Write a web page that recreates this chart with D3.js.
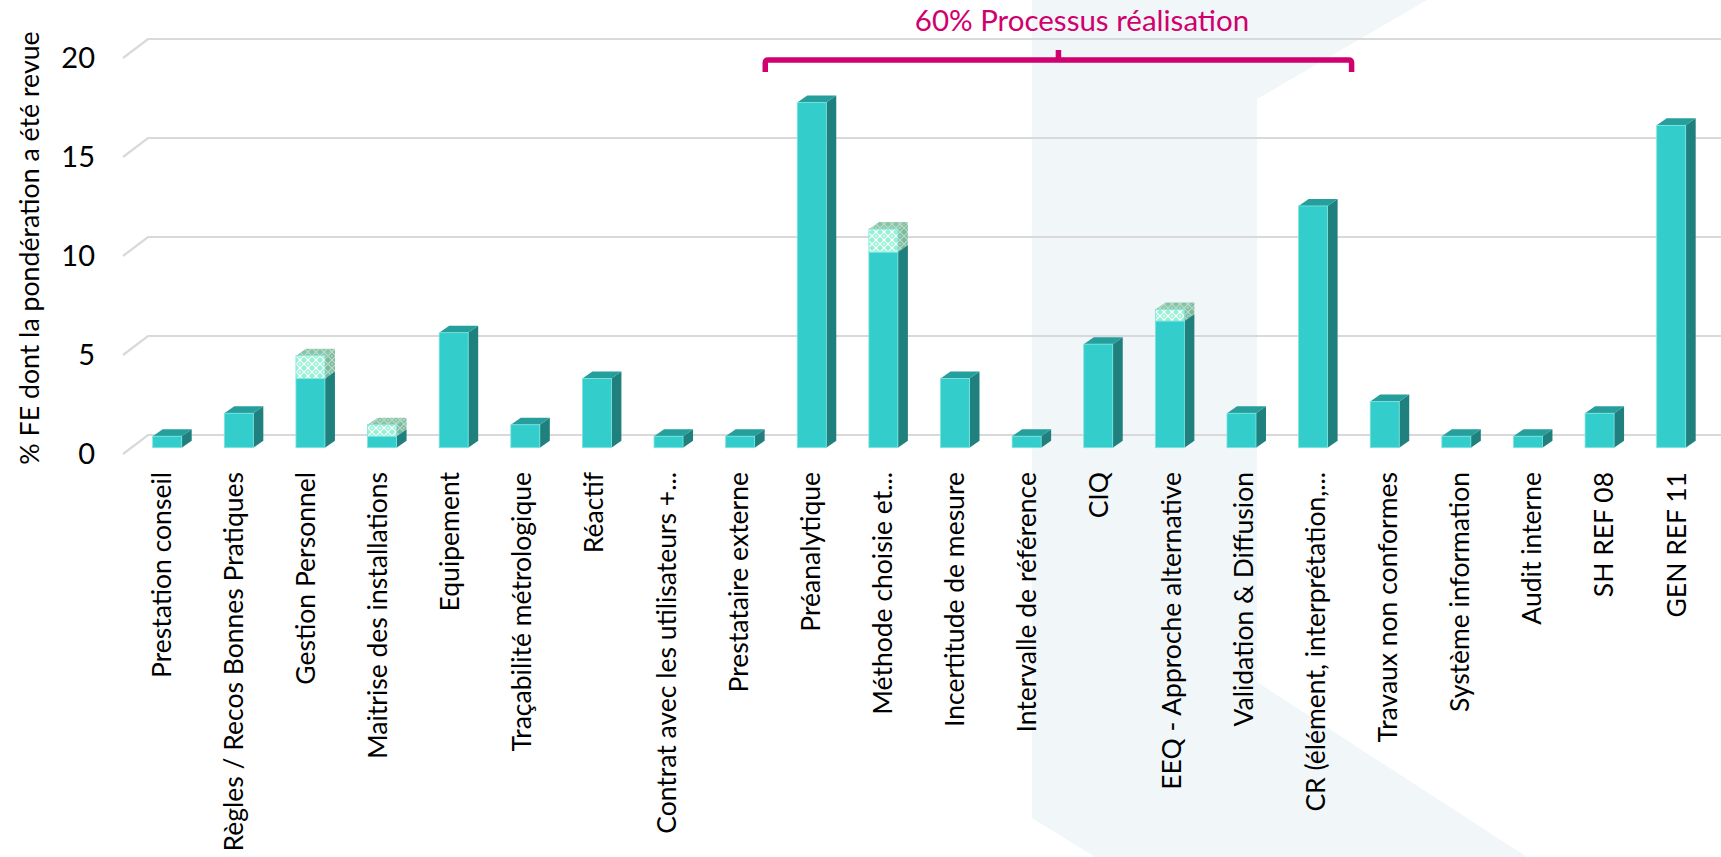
<!DOCTYPE html>
<html>
<head>
<meta charset="utf-8">
<script src="https://cdn.jsdelivr.net/npm/d3@7"></script>
<style>
  body { margin: 0; background: #fff; }
  svg { display: block; font-family: Lato, "Open Sans", sans-serif; }
</style>
</head>
<body>
<script>
// categories (x axis)
var categories = ["Prestation conseil", "Règles / Recos Bonnes Pratiques", "Gestion Personnel",
  "Maitrise des installations", "Equipement", "Traçabilité métrologique", "Réactif",
  "Contrat avec les utilisateurs +...", "Prestataire externe", "Préanalytique",
  "Méthode choisie et...", "Incertitude de mesure", "Intervalle de référence", "CIQ",
  "EEQ - Approche alternative", "Validation & Diffusion", "CR (élément, interprétation,...",
  "Travaux non conformes", "Système information", "Audit interne", "SH REF 08", "GEN REF 11"]

// % FE (plain part)
var baseValues = [0.58, 1.74, 3.49, 0.58, 5.81, 1.16, 3.49, 0.58, 0.58, 17.44,
  9.88, 3.49, 0.58, 5.23, 6.40, 1.74, 12.21, 2.33, 0.58, 0.58, 1.74, 16.28]

// % FE whose weighting was reviewed (hatched part)
var revisedValues = [0, 0, 1.16, 0.58, 0, 0, 0, 0, 0, 0,
  1.16, 0, 0, 0, 0.58, 0, 0, 0, 0, 0, 0, 0]

var yTicks = [0, 5, 10, 15, 20]

var yTitle = "% FE  dont la pondération a été revue"
var bracketText = "60% Processus réalisation"
var bracketFrom = "Préanalytique", bracketTo = "CR (élément, interprétation,..."

var width = 1721, height = 857

var svg = d3.select("body").append("svg")
    .attr("width", width)
    .attr("height", height)

var defs = svg.append("defs")
function hatch(id, bg, fg) {
    var p = defs.append("pattern").attr("id", id)
        .attr("width", 8).attr("height", 8)
        .attr("patternUnits", "userSpaceOnUse")
    p.append("rect").attr("width", 8).attr("height", 8).attr("fill", bg)
    p.append("path").attr("d", "M0,4 L4,0 L8,4 L4,8 Z")
        .attr("fill", "none").attr("stroke", fg).attr("stroke-width", 1.2)
    p.append("circle").attr("cx", 4).attr("cy", 4).attr("r", 0.9).attr("fill", fg)
}
hatch("hFront", "#93f2d4", "#ffffff")
hatch("hSide", "#7db99d", "#b5dcc8")
hatch("hTop", "#87c4a6", "#b8dcc9")

// background shape
svg.append("path")
    .attr("d", "M1032,0 L1427,0 L1257,99 L1257,682 L1527,857 L1095,857 L1032,818 Z")
    .attr("fill", "#f1f6f9")

var x = d3.scaleBand()
    .domain(categories)
    .range([131.4, 1707])
    .paddingInner(0.595)
    .paddingOuter(0.2975)

var xLabel = d3.scalePoint()
    .domain(categories)
    .range([161, 1676])

var y = d3.scaleLinear()
    .domain([0, 20])
    .range([447.7, 51.7])

// 3D grid: back wall lines + slanted floor edge
var backDy = -12.7, wallX = 148, frontX = 123, slant = 19

var grid = svg.append("g")
grid.selectAll("path")
    .data(yTicks)
    .enter()
    .append("path")
    .attr("d", function (d) {
        var yb = y(d) + backDy
        return "M" + frontX + "," + (yb + slant) + " L" + wallX + "," + yb + " L" + width + "," + yb
    })
    .attr("fill", "none")
    .attr("stroke", "#d9d9d9")
    .attr("stroke-width", 2.2)

svg.append("g").selectAll("text")
    .data(yTicks)
    .enter()
    .append("text")
    .attr("x", 95)
    .attr("y", function (d) { return y(d) + backDy + slant })
    .attr("dy", "0.36em")
    .attr("text-anchor", "end")
    .attr("font-size", 29)
    .attr("fill", "#000")
    .text(function (d) { return d })

svg.append("text")
    .attr("transform", "translate(29,248) rotate(-90)")
    .attr("dy", "0.36em")
    .attr("text-anchor", "middle")
    .attr("font-size", 26.7)
    .attr("fill", "#000")
    .text(yTitle)

// bars
var dx = 10, dz = 7, bw = x.bandwidth()
function block(g, x0, y0, y1, front, side, top) {
    g.append("path")
        .attr("d", "M" + (x0 + bw) + "," + y0 + " L" + (x0 + bw + dx) + "," + (y0 - dz) +
            " L" + (x0 + bw + dx) + "," + (y1 - dz) + " L" + (x0 + bw) + "," + y1 + " Z")
        .attr("fill", side)
    g.append("path")
        .attr("d", "M" + x0 + "," + y0 + " L" + (x0 + dx) + "," + (y0 - dz) +
            " L" + (x0 + bw + dx) + "," + (y0 - dz) + " L" + (x0 + bw) + "," + y0 + " Z")
        .attr("fill", top)
    g.append("rect")
        .attr("x", x0).attr("y", y0)
        .attr("width", bw).attr("height", y1 - y0)
        .attr("fill", front)
        .attr("stroke", "#7fe3e0").attr("stroke-width", 0.8)
}

var bars = svg.append("g")
categories.forEach(function (c, i) {
    var g = bars.append("g")
    var x0 = x(c)
    var b = baseValues[i], r = revisedValues[i]
    block(g, x0, y(b), y(0), "#33cdcc", "#1f807e", "#269e9c")
    if (r > 0) {
        block(g, x0, y(b + r), y(b), "url(#hFront)", "url(#hSide)", "url(#hTop)")
    }
})

// x labels
svg.append("g").selectAll("text")
    .data(categories)
    .enter()
    .append("text")
    .attr("transform", function (d) { return "translate(" + xLabel(d) + ",472) rotate(-90)" })
    .attr("dy", "0.36em")
    .attr("text-anchor", "end")
    .attr("font-size", 26.5)
    .attr("fill", "#000")
    .text(function (d) { return d })

// bracket for the realisation processes
var bx0 = x(bracketFrom) - 32, bx1 = x(bracketTo) + bw + 24
var by = 60, bmid = (bx0 + bx1) / 2
svg.append("path")
    .attr("d", "M" + bx0 + "," + (by + 12) + " L" + bx0 + "," + (by + 3) + " Q" + bx0 + "," + by + " " + (bx0 + 3) + "," + by +
        " L" + (bx1 - 3) + "," + by + " Q" + bx1 + "," + by + " " + bx1 + "," + (by + 3) + " L" + bx1 + "," + (by + 12) +
        " M" + bmid + "," + by + " L" + bmid + "," + (by - 10))
    .attr("fill", "none")
    .attr("stroke", "#d0006f")
    .attr("stroke-width", 5.5)

svg.append("text")
    .attr("x", 1082)
    .attr("y", 31)
    .attr("text-anchor", "middle")
    .attr("font-size", 29.5)
    .attr("fill", "#d0006f")
    .text(bracketText)
</script>
</body>
</html>
